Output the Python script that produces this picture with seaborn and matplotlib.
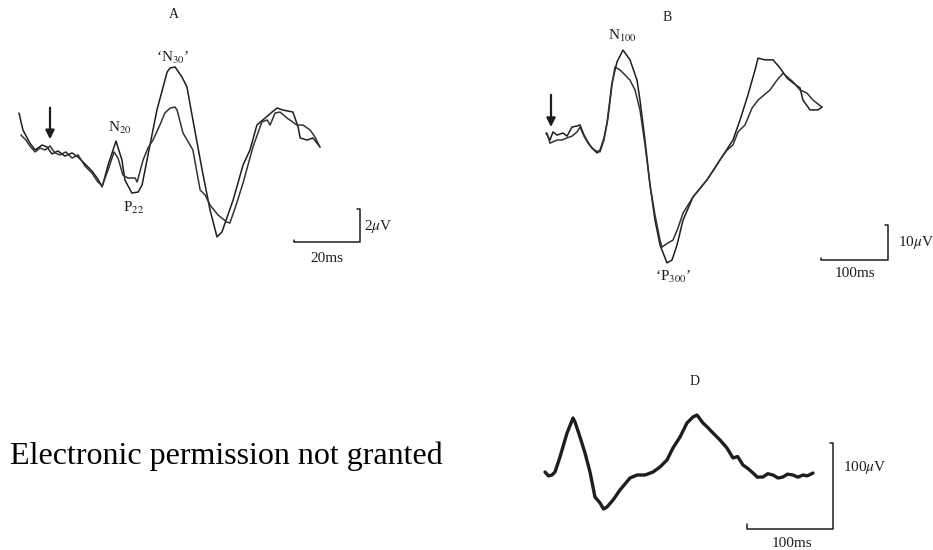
import matplotlib
matplotlib.use("Agg")
import matplotlib.pyplot as plt
import pandas as pd
import seaborn as sns

# ---------------------------------------------------------------------------
# data: evoked potentials, time in ms from stimulus, voltage in uV (negative up)
# ---------------------------------------------------------------------------
# panel A - two overlaid averages
a_t1 = [-9.4, -8.2, -6.1, -4.5, -2.4, -0.9, 0.6, 2.4, 4.5, 6.7, 8.5, 10.6, 12.7, 14.5, 15.8,
        17.6, 20.0, 21.8, 22.7, 24.8, 26.7, 27.9, 29.4, 32.4, 35.5, 36.4, 37.9, 40.0, 41.5,
        43.3, 46.1, 48.5, 50.6, 52.1, 55.5, 58.5, 60.6, 62.7, 65.2, 67.3, 68.8, 70.6, 73.6,
        75.2, 75.8, 77.9, 79.7, 81.8]
a_v1 = [-2.06, -1.03, -0.24, 0.18, -0.12, 0.0, 0.42, 0.24, 0.55, 0.36, 0.61, 1.03, 1.45, 1.94,
        2.42, 1.09, -0.36, 0.79, 2.0, 2.79, 2.73, 2.30, 0.79, -2.24, -4.55, -4.79, -4.85, -4.24,
        -3.64, -1.64, 1.39, 3.82, 5.45, 5.15, 3.21, 1.09, 0.18, -1.33, -1.76, -2.12, -2.36,
        -2.24, -2.12, -1.21, -0.55, -0.42, -0.55, 0.0]
a_t2 = [-8.8, -7.3, -6.1, -4.5, -3.0, -1.5, 0.0, 1.5, 3.0, 4.8, 6.7, 8.5, 10.6, 12.7, 14.5, 15.8,
        17.6, 19.4, 20.6, 22.1, 23.6, 25.8, 26.4, 28.2, 29.7, 31.2, 33.3, 34.8, 36.4, 37.9,
        38.5, 40.3, 43.3, 45.5, 47.0, 48.5, 50.9, 53.6, 54.5, 56.4, 58.5, 61.5, 64.2, 65.8,
        66.7, 68.2, 69.7, 71.8, 74.8, 76.7, 78.8, 80.3, 81.8]
a_v2 = [-0.73, -0.42, -0.06, 0.30, 0.06, 0.18, -0.06, 0.36, 0.48, 0.30, 0.67, 0.48, 1.15, 1.58,
        2.12, 2.36, 1.39, 0.30, 0.67, 1.70, 1.88, 1.88, 2.12, 0.79, 0.06, -0.42, -1.33, -2.06,
        -2.36, -2.42, -2.24, -0.85, 0.18, 2.61, 2.91, 3.52, 4.12, 4.55, 4.61, 3.52, 2.18, 0.0,
        -1.52, -1.64, -1.33, -2.06, -2.12, -1.76, -1.33, -1.33, -1.03, -0.61, 0.0]

# panel B - two overlaid averages
b_t1 = [-7.5, -1.5, 3.0, 9.0, 17.9, 23.9, 31.3, 38.8, 43.3, 49.3, 55.2, 61.2, 68.7, 73.1, 79.1,
        83.6, 91.0, 98.5, 107.5, 117.9, 128.4, 132.8, 140.3, 147.8, 155.2, 162.7, 173.1, 180.6,
        188.1, 197.0, 211.9, 232.8, 252.2, 271.6, 282.1, 294.0, 304.5, 309.0, 319.4, 331.3,
        341.8, 352.2, 361.2, 371.6, 376.1, 386.6, 398.5, 404.5]
b_v1 = [0.0, 2.0, -0.3, 0.6, 0.0, 0.9, -1.7, -2.0, -2.3, 0.6, 2.6, 4.3, 5.7, 4.9, 1.4, -2.9,
        -14.3, -20.3, -23.7, -20.9, -15.1, -9.4, 2.0, 14.9, 24.9, 32.0, 37.1, 36.3, 32.0, 24.9,
        18.3, 13.4, 7.7, 2.0, -3.7, -10.9, -18.0, -21.4, -20.9, -20.9, -18.6, -15.7, -14.3,
        -12.9, -9.4, -6.6, -6.6, -7.4]
b_t2 = [-6.0, -1.5, 9.0, 16.4, 23.9, 31.3, 38.8, 43.3, 49.3, 55.2, 61.2, 67.2, 73.1, 79.1, 85.1,
        91.0, 95.5, 103.0, 110.4, 117.9, 125.4, 132.8, 140.3, 147.8, 155.2, 162.7, 165.7, 174.6,
        182.1, 189.6, 197.0, 211.9, 232.8, 244.8, 252.2, 262.7, 271.6, 279.1, 289.6, 300.0,
        309.0, 326.9, 337.3, 346.3, 361.2, 371.6, 382.1, 391.0, 404.5]
b_v2 = [0.0, 2.9, 2.0, 2.0, 1.4, 0.9, -0.3, -1.7, 0.9, 2.9, 4.3, 5.1, 5.4, 2.0, -4.3, -13.7,
        -18.9, -18.0, -16.6, -15.1, -12.3, -6.6, 3.4, 14.9, 23.4, 30.6, 32.6, 31.4, 30.6, 27.1,
        22.9, 18.3, 13.4, 10.0, 7.7, 4.9, 3.4, -0.3, -2.3, -7.1, -9.4, -12.3, -15.1, -17.1,
        -14.6, -12.3, -11.4, -9.4, -7.4]

# panel D - single noisy average
d_t = [0, 4.0, 8.1, 11.6, 17.4, 25.6, 32.6, 34.9, 40.7, 46.5, 52.3, 55.8, 58.1, 64.0, 68.0,
       72.1, 79.1, 87.2, 98.8, 107.0, 116.3, 125.6, 133.7, 141.9, 148.8, 157.0, 165.1, 172.1,
       176.7, 183.7, 189.0, 194.2, 203.5, 211.6, 218.6, 224.0, 230.2, 236.0, 241.9, 247.0,
       253.5, 259.0, 265.1, 271.0, 276.7, 282.0, 288.4, 294.0, 300.0, 305.0, 311.6]
d_v = [0, 4.5, 3.5, 0, -17.4, -45.3, -62.8, -58.1, -40.7, -22.1, 0, 17.4, 29.1, 36.0, 43.0,
       40.7, 32.6, 20.9, 7.0, 3.5, 3.5, 0, -5.8, -14.0, -27.9, -40.7, -57.0, -64.0, -66.3,
       -57.0, -52.0, -46.5, -37.2, -27.9, -16.3, -18.0, -8.1, -4.0, 1.2, 6.0, 5.8, 2.0, 3.5,
       7.0, 5.8, 2.5, 3.5, 6.0, 3.5, 4.5, 1.2]


def traces(*pairs):
    frames = []
    for i, (t, v) in enumerate(pairs):
        frames.append(pd.DataFrame({"t": t, "v": v, "trace": f"s{i}"}))
    return pd.concat(frames, ignore_index=True)


sns.set_style("white")
plt.rcParams["font.family"] = ["Liberation Serif", "DejaVu Serif"]
plt.rcParams["mathtext.fontset"] = "stix"

W, H = 933, 550
fig = plt.figure(figsize=(W / 100, H / 100), dpi=100)
INK = "#1e1e1e"


def panel(box, x0, y0, sx, sy):
    # box in figure pixels; x0/y0 = pixel of (0 ms, 0 uV); sx, sy = px per unit
    L, T, R, B = box
    ax = fig.add_axes([L / W, 1 - B / H, (R - L) / W, (B - T) / H])
    lims = ((L - x0) / sx, (R - x0) / sx, (B - y0) / sy, (T - y0) / sy)
    return ax, lims


def finish(ax, lims):
    ax.set_xlim(lims[0], lims[1])
    ax.set_ylim(lims[2], lims[3])  # inverted: negative up
    ax.axis("off")


def scalebar(ax, t0, v0, dt, dv, tlab, vlab, tpos, vpos, fs=11):
    ax.plot([t0, t0, t0 + dt, t0 + dt, t0 + dt - dt * 0.04],
            [v0 - dv * 0.06, v0, v0, v0 - dv, v0 - dv], color=INK, lw=1.1)
    ax.text(tpos[0], tpos[1], tlab, ha="center", va="center", fontsize=fs, color=INK)
    ax.text(vpos[0], vpos[1], vlab, ha="left", va="center", fontsize=fs, color=INK)


def stim_arrow(ax, v_top, v_tip):
    ax.annotate("", xy=(0, v_tip), xytext=(0, v_top),
                arrowprops=dict(arrowstyle="-|>", color=INK, lw=1.6, mutation_scale=13))


# ---------------------------------------------------------------------------
# A
# ---------------------------------------------------------------------------
ax, lims = panel((0, 0, 420, 290), 50, 147, 3.3, 16.5)
sns.lineplot(data=traces((a_t1, a_v1), (a_t2, a_v2)), x="t", y="v", hue="trace",
             palette=[INK, "#333333"], estimator=None, sort=False, legend=False,
             lw=1.1, ax=ax)
stim_arrow(ax, -2.55, -0.3)
ax.text(37.6, -8.06, "A", ha="center", va="center", fontsize=10, color=INK)
ax.text(21.2, -1.15, r"N$_{20}$", ha="center", va="center", fontsize=11, color=INK)
ax.text(25.2, 3.7, r"P$_{22}$", ha="center", va="center", fontsize=11, color=INK)
ax.text(37.3, -5.4, "\u2018N$_{30}$\u2019", ha="center", va="center", fontsize=11, color=INK)
scalebar(ax, 73.9, 5.76, 20, 2, "20ms", r"2$\mu$V", (83.9, 6.75), (95.3, 4.8))
finish(ax, lims)

# ---------------------------------------------------------------------------
# B
# ---------------------------------------------------------------------------
ax, lims = panel((520, 0, 933, 300), 551, 133, 0.67, 3.5)
sns.lineplot(data=traces((b_t1, b_v1), (b_t2, b_v2)), x="t", y="v", hue="trace",
             palette=[INK, "#333333"], estimator=None, sort=False, legend=False,
             lw=1.1, ax=ax)
stim_arrow(ax, -11.7, -0.9)
ax.text(173, -32.9, "B", ha="center", va="center", fontsize=10, color=INK)
ax.text(106, -27.7, r"N$_{100}$", ha="center", va="center", fontsize=11, color=INK)
ax.text(182, 41.1, "\u2018P$_{300}$\u2019", ha="center", va="center", fontsize=11, color=INK)
scalebar(ax, 403, 36.3, 100, 10, "100ms", r"10$\mu$V", (453.7, 40.2), (518, 31.4))
finish(ax, lims)

# ---------------------------------------------------------------------------
# D
# ---------------------------------------------------------------------------
ax, lims = panel((520, 350, 933, 550), 545, 472, 0.86, 0.86)
sns.lineplot(data=traces((d_t, d_v)), x="t", y="v", hue="trace", palette=[INK],
             estimator=None, sort=False, legend=False, lw=2.4, ax=ax)
ax.text(174.4, -105.8, "D", ha="center", va="center", fontsize=10, color=INK)
scalebar(ax, 234.9, 66.3, 100, 100, "100ms", r"100$\mu$V", (287.2, 82.6), (346.5, -5.8))
finish(ax, lims)

fig.text(10 / W, 1 - 456 / H, "Electronic permission not granted", ha="left",
         va="center", fontsize=23, color="black")

fig.savefig("out.png", dpi=100)
